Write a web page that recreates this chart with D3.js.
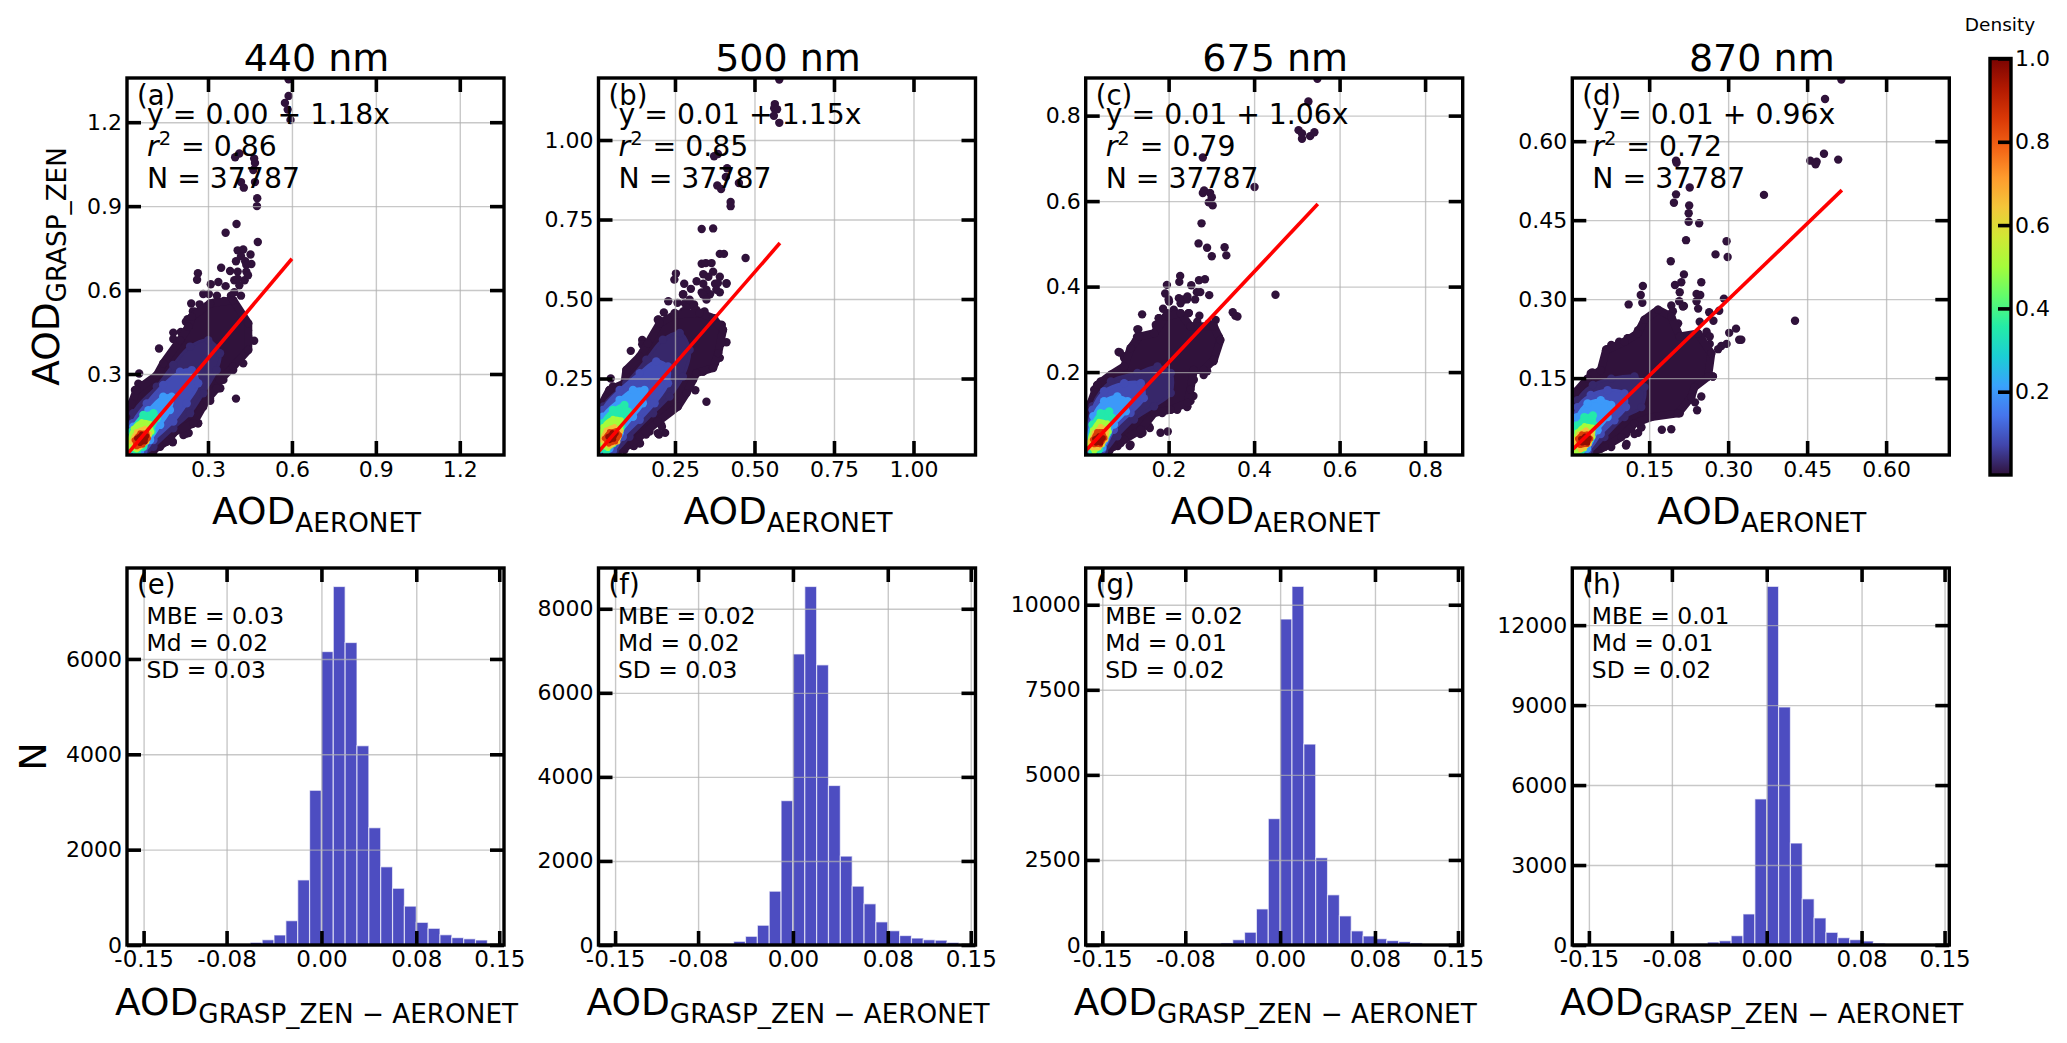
<!DOCTYPE html>
<html>
<head>
<meta charset="utf-8">
<title>AOD comparison</title>
<script src="https://cdn.jsdelivr.net/npm/d3@7"></script>
<style>
  html, body { margin: 0; padding: 0; background: #fff; }
  text { font-family: "DejaVu Sans", sans-serif; fill: #000; }
</style>
</head>
<body>
<div id="vis"></div>
<script>
// turbo colour stops, matplotlib style (d3.interpolateTurbo is too black at the low end)
const turboStops = ["#30123b","#4145ab","#4675ed","#39a2fc","#1bcfd4","#24eca6","#61fc6c","#a4fc3b","#d1e834","#f3c63a","#fe9b2d","#f36315","#d93806","#b11901","#7a0402"];

const titles = ["440 nm", "500 nm", "675 nm", "870 nm"];
const scatterLetters = ["(a)", "(b)", "(c)", "(d)"];
const histLetters = ["(e)", "(f)", "(g)", "(h)"];
const fitLabels = ["y = 0.00 + 1.18x", "y = 0.01 + 1.15x", "y = 0.01 + 1.06x", "y = 0.01 + 0.96x"];
const r2Labels = ["0.86", "0.85", "0.79", "0.72"];
const nLabel = "N = 37787";
const mbeLabels = ["MBE = 0.03", "MBE = 0.02", "MBE = 0.02", "MBE = 0.01"];
const mdLabels = ["Md = 0.02", "Md = 0.02", "Md = 0.01", "Md = 0.01"];
const sdLabels = ["SD = 0.03", "SD = 0.03", "SD = 0.02", "SD = 0.02"];

// axis limits and ticks of the top row
const scatterDomains = [[0.0105, 1.358], [0.0095, 1.195], [0.006, 0.888], [0.004, 0.72]];
const scatterTicks = [[0.3, 0.6, 0.9, 1.2], [0.25, 0.5, 0.75, 1.0], [0.2, 0.4, 0.6, 0.8], [0.15, 0.3, 0.45, 0.6]];
const scatterFormats = [".1f", ".2f", ".1f", ".2f"];

// regression line end points [x1, y1, x2, y2]
const fitEnds = [[0.012, 0.014, 0.6, 0.712], [0.01, 0.02, 0.58, 0.676], [0.006, 0.016, 0.549, 0.593], [0.004, 0.014, 0.516, 0.507]];

// density bands, outermost first
const bandsA = [
  { level: 0.0, pts: [[.015,.017],[.021,.112],[.027,.195],[.045,.243],[.117,.296],[.140,.338],[.200,.421],[.230,.469],[.242,.505],[.307,.552],[.390,.564],[.444,.481],[.444,.386],[.390,.326],[.343,.279],[.331,.249],[.295,.207],[.248,.124],[.182,.094],[.152,.058],[.105,.029],[.093,.013]] },
  { level: 0.03, pts: [[.021,.029],[.033,.160],[.117,.255],[.176,.332],[.236,.398],[.301,.421],[.343,.374],[.331,.314],[.283,.231],[.236,.160],[.176,.106],[.105,.040],[.069,.013]] },
  { level: 0.08, pts: [[.021,.029],[.031,.124],[.081,.195],[.140,.261],[.200,.308],[.242,.314],[.265,.267],[.224,.195],[.176,.130],[.105,.064],[.069,.023]] },
  { level: 0.2, pts: [[.019,.029],[.033,.112],[.087,.171],[.140,.219],[.170,.219],[.164,.171],[.129,.118],[.093,.064],[.057,.023]] },
  { level: 0.35, pts: [[.019,.035],[.027,.094],[.069,.154],[.105,.160],[.117,.142],[.099,.094],[.069,.040],[.045,.019]] },
  { level: 0.5, pts: [[.019,.040],[.033,.106],[.063,.130],[.093,.124],[.099,.094],[.081,.058],[.045,.029]] },
  { level: 0.65, pts: [[.027,.058],[.045,.094],[.075,.106],[.090,.088],[.081,.058],[.051,.035]] },
  { level: 0.85, pts: [[.036,.064],[.057,.090],[.081,.090],[.087,.070],[.067,.046],[.045,.040]] },
  { level: 0.97, pts: [[.045,.070],[.063,.085],[.081,.079],[.075,.058],[.057,.052]] }
];
const bandsB = [
  { level: 0.0, pts: [[.013,.020],[.021,.172],[.044,.214],[.091,.235],[.097,.277],[.139,.319],[.165,.361],[.202,.424],[.249,.451],[.328,.456],[.370,.440],[.401,.403],[.386,.330],[.370,.283],[.317,.267],[.286,.204],[.259,.162],[.196,.114],[.139,.067],[.097,.036],[.065,.018]] },
  { level: 0.03, pts: [[.013,.025],[.025,.162],[.097,.235],[.160,.309],[.212,.372],[.265,.393],[.296,.340],[.275,.256],[.233,.193],[.181,.141],[.107,.067],[.060,.020]] },
  { level: 0.08, pts: [[.013,.025],[.023,.151],[.076,.214],[.139,.267],[.191,.304],[.228,.288],[.228,.235],[.186,.172],[.139,.120],[.086,.067],[.055,.023]] },
  { level: 0.2, pts: [[.013,.027],[.023,.130],[.076,.183],[.118,.214],[.154,.214],[.149,.172],[.118,.130],[.076,.078],[.044,.030]] },
  { level: 0.35, pts: [[.013,.030],[.021,.109],[.055,.151],[.091,.167],[.102,.146],[.081,.099],[.055,.046],[.034,.023]] },
  { level: 0.5, pts: [[.015,.041],[.023,.099],[.055,.125],[.081,.120],[.081,.088],[.065,.051],[.039,.030]] },
  { level: 0.65, pts: [[.021,.057],[.034,.088],[.060,.099],[.079,.083],[.070,.051],[.044,.038]] },
  { level: 0.85, pts: [[.028,.062],[.044,.083],[.065,.086],[.076,.072],[.063,.051],[.042,.044]] },
  { level: 0.97, pts: [[.039,.067],[.053,.080],[.065,.078],[.057,.059],[.044,.055]] }
];
const bandsC = [
  { level: 0.0, pts: [[.010,.007],[.018,.128],[.033,.170],[.065,.194],[.096,.213],[.111,.256],[.131,.283],[.166,.291],[.193,.330],[.228,.338],[.251,.307],[.306,.307],[.321,.275],[.306,.229],[.282,.205],[.259,.205],[.251,.159],[.244,.128],[.205,.112],[.166,.104],[.135,.065],[.096,.042],[.072,.026],[.049,.011]] },
  { level: 0.03, pts: [[.014,.015],[.022,.120],[.065,.178],[.127,.198],[.174,.213],[.205,.198],[.205,.151],[.166,.120],[.119,.089],[.080,.050],[.049,.015]] },
  { level: 0.08, pts: [[.014,.019],[.022,.112],[.049,.155],[.096,.174],[.135,.174],[.142,.139],[.111,.104],[.072,.065],[.045,.019]] },
  { level: 0.2, pts: [[.014,.023],[.024,.097],[.049,.132],[.080,.143],[.104,.132],[.100,.108],[.072,.077],[.045,.023]] },
  { level: 0.35, pts: [[.014,.026],[.022,.077],[.041,.104],[.061,.108],[.068,.093],[.057,.058],[.037,.019],[.022,.012]] },
  { level: 0.5, pts: [[.014,.030],[.022,.065],[.037,.085],[.057,.081],[.061,.061],[.045,.030],[.026,.015]] },
  { level: 0.65, pts: [[.016,.038],[.026,.058],[.041,.073],[.055,.065],[.053,.042],[.037,.023],[.022,.023]] },
  { level: 0.85, pts: [[.022,.042],[.032,.061],[.045,.061],[.051,.046],[.040,.030],[.026,.030]] },
  { level: 0.97, pts: [[.027,.044],[.037,.051],[.047,.046],[.041,.034],[.030,.034]] }
];
const bandsD = [
  { level: 0.0, pts: [[.004,.006],[.011,.124],[.033,.149],[.058,.165],[.068,.203],[.103,.219],[.128,.235],[.141,.261],[.167,.280],[.192,.267],[.208,.229],[.243,.235],[.268,.197],[.262,.153],[.236,.133],[.230,.114],[.205,.083],[.154,.076],[.122,.064],[.097,.038],[.065,.019],[.039,.008]] },
  { level: 0.03, pts: [[.006,.010],[.014,.108],[.043,.137],[.078,.149],[.122,.153],[.141,.133],[.135,.095],[.103,.076],[.065,.038],[.036,.010]] },
  { level: 0.08, pts: [[.006,.013],[.014,.095],[.039,.118],[.071,.127],[.103,.121],[.106,.095],[.084,.070],[.058,.044],[.033,.013]] },
  { level: 0.2, pts: [[.006,.016],[.013,.076],[.033,.102],[.058,.108],[.078,.099],[.071,.076],[.052,.051],[.032,.016]] },
  { level: 0.35, pts: [[.006,.022],[.013,.060],[.027,.076],[.043,.079],[.046,.060],[.036,.032],[.020,.010]] },
  { level: 0.5, pts: [[.006,.025],[.013,.048],[.027,.060],[.043,.057],[.043,.038],[.027,.016],[.011,.010]] },
  { level: 0.65, pts: [[.009,.032],[.017,.044],[.030,.052],[.041,.043],[.036,.025],[.020,.014]] },
  { level: 0.85, pts: [[.014,.035],[.022,.044],[.032,.044],[.039,.035],[.032,.024],[.019,.022]] },
  { level: 0.97, pts: [[.020,.035],[.028,.040],[.036,.036],[.033,.027],[.023,.027]] }
];

// single low density points outside the dense cloud
const pointsA = [[.588,1.353],[.588,1.294],[.575,1.269],[.585,1.245],[.595,1.208],[.397,1.075],[.412,1.088],[.465,1.070],[.468,1.054],[.462,1.029],[.418,.986],[.468,.986],[.428,.966],[.476,.928],[.475,.900],[.402,.836],[.363,.805],[.478,.772],[.406,.742],[.426,.745],[.452,.727],[.347,.680],[.379,.668],[.400,.703],[.433,.703],[.455,.693],[.406,.666],[.437,.666],[.264,.660],[.261,.637],[.310,.621],[.337,.629],[.363,.614],[.394,.635],[.431,.635],[.303,.586],[.332,.580],[.394,.592],[.418,.580],[.357,.561],[.240,.552],[.270,.549],[.227,.496],[.283,.530],[.308,.530],[.394,.524],[.418,.499],[.176,.448],[.176,.425],[.125,.391],[.054,.302],[.465,.419],[.400,.212],[.051,.265],[.073,.259],[.104,.271],[.221,.087],[.231,.089],[.174,.058],[.125,.044],[.344,.249],[.308,.204],[.264,.124],[.283,.191],[.418,.370],[.437,.382],[.443,.456],[.431,.469]];
const pointsB = [[.578,1.190],[.564,1.113],[.562,1.100],[.571,1.097],[.561,1.076],[.578,1.054],[.373,.949],[.385,.956],[.414,.911],[.410,.884],[.451,.865],[.383,.857],[.395,.846],[.425,.805],[.425,.792],[.334,.720],[.370,.722],[.391,.642],[.404,.642],[.472,.629],[.334,.611],[.347,.613],[.365,.613],[.253,.580],[.248,.561],[.339,.578],[.370,.586],[.355,.570],[.391,.570],[.318,.556],[.279,.548],[.300,.532],[.339,.548],[.376,.548],[.412,.548],[.276,.515],[.334,.521],[.360,.515],[.391,.521],[.229,.493],[.258,.488],[.310,.483],[.287,.483],[.215,.458],[.339,.458],[.276,.461],[.198,.436],[.373,.440],[.397,.418],[.412,.364],[.147,.371],[.147,.358],[.111,.337],[.048,.250],[.391,.315],[.376,.299],[.339,.272],[.314,.213],[.349,.177],[.219,.079],[.200,.074],[.209,.098],[.159,.074],[.140,.046],[.121,.038],[.276,.196],[.245,.158]];
const pointsC = [[.548,.886],[.527,.833],[.504,.766],[.512,.758],[.512,.746],[.531,.752],[.541,.761],[.280,.702],[.401,.633],[.280,.619],[.283,.625],[.297,.619],[.301,.609],[.294,.597],[.303,.590],[.277,.548],[.270,.501],[.290,.491],[.331,.492],[.335,.473],[.301,.471],[.196,.404],[.192,.384],[.227,.425],[.225,.411],[.271,.415],[.285,.417],[.253,.403],[.266,.387],[.274,.387],[.295,.380],[.262,.370],[.450,.381],[.350,.340],[.356,.332],[.361,.330],[.138,.335],[.177,.326],[.187,.348],[.127,.300],[.171,.307],[.247,.338],[.272,.332],[.126,.282],[.083,.247],[.095,.237],[.027,.158],[.258,.144],[.251,.132],[.243,.118],[.198,.061],[.181,.058],[.156,.069],[.134,.055],[.109,.027],[.081,.027],[.305,.225],[.309,.278],[.317,.282],[.282,.193],[.200,.370],[.235,.370],[.243,.370]];
const pointsD = [[.515,.717],[.484,.680],[.201,.563],[.202,.559],[.456,.563],[.468,.561],[.466,.556],[.482,.576],[.509,.565],[.227,.512],[.201,.499],[.197,.483],[.368,.498],[.226,.478],[.225,.463],[.225,.447],[.245,.444],[.220,.412],[.297,.410],[.276,.385],[.299,.380],[.191,.372],[.216,.347],[.211,.332],[.199,.327],[.249,.332],[.208,.313],[.240,.310],[.247,.308],[.138,.325],[.134,.308],[.137,.293],[.111,.290],[.292,.301],[.207,.296],[.240,.296],[.216,.287],[.243,.282],[.283,.278],[.192,.288],[.264,.275],[.272,.259],[.427,.259],[.315,.244],[.302,.236],[.321,.223],[.325,.223],[.297,.215],[.287,.211],[.281,.205],[.259,.234],[.265,.215],[.259,.189],[.271,.153],[.042,.161],[.069,.205],[.078,.213],[.110,.226],[.129,.241],[.249,.115],[.237,.104],[.241,.089],[.174,.052],[.192,.053],[.135,.056],[.116,.054],[.107,.025],[.129,.046]];

// points that make the bumpy rim of each cloud
const rimA = [[.039,.243],[.057,.261],[.033,.195],[.027,.160],[.099,.273],[.135,.320],[.152,.350],[.200,.410],[.212,.445],[.230,.493],[.254,.523],[.307,.540],[.367,.517],[.396,.493],[.432,.481],[.444,.433],[.438,.386],[.426,.338],[.390,.314],[.355,.279],[.337,.249],[.307,.213],[.283,.183],[.254,.130],[.212,.106],[.176,.094],[.146,.064],[.129,.040],[.105,.023],[.242,.121],[.265,.124],[.224,.088],[.212,.082],[.174,.056],[.129,.045],[.344,.524],[.369,.542],[.320,.555],[.382,.580],[.412,.617],[.406,.641],[.443,.653],[.437,.690],[.418,.721],[.369,.530],[.283,.586],[.246,.524],[.221,.487],[.203,.450]];
const rimB = [[.028,.167],[.034,.193],[.055,.225],[.081,.225],[.107,.267],[.123,.298],[.154,.325],[.170,.351],[.202,.403],[.196,.435],[.228,.435],[.249,.456],[.281,.487],[.307,.477],[.343,.461],[.396,.419],[.401,.403],[.380,.382],[.396,.361],[.380,.309],[.375,.298],[.338,.272],[.307,.246],[.291,.225],[.275,.193],[.254,.167],[.228,.146],[.207,.104],[.196,.078],[.170,.083],[.139,.046],[.118,.039],[.091,.025],[.070,.020],[.349,.529],[.385,.550],[.338,.514],[.412,.550],[.296,.498],[.275,.514],[.349,.498],[.380,.529],[.317,.466],[.286,.472]];
const rimC = [[.018,.112],[.026,.159],[.041,.178],[.080,.194],[.086,.246],[.096,.233],[.111,.248],[.123,.272],[.131,.283],[.129,.300],[.170,.311],[.177,.326],[.193,.318],[.197,.338],[.201,.365],[.224,.373],[.244,.377],[.228,.361],[.247,.338],[.267,.318],[.294,.314],[.310,.322],[.317,.283],[.314,.260],[.302,.225],[.290,.202],[.263,.213],[.259,.182],[.255,.143],[.244,.120],[.220,.112],[.185,.104],[.162,.108],[.154,.073],[.139,.058],[.111,.030],[.088,.034],[.061,.015],[.216,.322],[.228,.307],[.259,.307],[.212,.346],[.236,.322],[.282,.283],[.298,.268],[.275,.252]];
const rimD = [[.017,.121],[.014,.102],[.039,.159],[.042,.146],[.062,.168],[.071,.203],[.078,.207],[.093,.219],[.109,.226],[.128,.238],[.144,.261],[.167,.277],[.192,.273],[.205,.254],[.195,.277],[.214,.286],[.246,.257],[.259,.238],[.265,.229],[.259,.191],[.262,.168],[.271,.153],[.249,.175],[.236,.171],[.233,.140],[.227,.111],[.208,.083],[.179,.083],[.151,.076],[.135,.057],[.122,.044],[.106,.044],[.106,.022],[.078,.019],[.058,.016],[.036,.008],[.211,.229],[.224,.210],[.243,.210],[.236,.197],[.208,.216],[.198,.248],[.227,.178],[.243,.184],[.217,.165]];

// histograms: 30 bins of 0.01 from -0.15 to 0.15
const binWidth = 0.01;
const binStart = -0.15;
const histE = [0,0,0,0,0,0,0,0,15,55,110,210,510,1365,3245,6155,7520,6345,4180,2460,1640,1190,815,475,350,215,155,130,105,20];
const histF = [0,0,0,0,0,0,0,0,0,25,87,207,470,1280,3435,6925,8530,6665,3795,2115,1400,980,550,340,225,165,125,115,60,20];
const histG = [0,0,0,0,0,0,0,0,0,10,60,155,375,1060,3715,9580,10540,5905,2565,1475,855,415,265,185,130,100,60,15,0,0];
const histH = [0,0,0,0,0,0,0,0,0,45,110,160,350,1165,5480,13455,8930,3825,1730,1015,475,275,200,150,70,20,0,0,0,0];

const histXDomain = [-0.164, 0.154];
const histXTicks = [-0.15, -0.08, 0, 0.08, 0.15];
const histXLabels = ["-0.15", "-0.08", "0.00", "0.08", "0.15"];
const histYMax = [7908, 8970, 11080, 14144];
const histYTicks = [[0, 2000, 4000, 6000], [0, 2000, 4000, 6000, 8000], [0, 2500, 5000, 7500, 10000], [0, 3000, 6000, 9000, 12000]];

const colorbarTicks = [0.2, 0.4, 0.6, 0.8, 1.0];

const allBands = [bandsA, bandsB, bandsC, bandsD];
const allPoints = [pointsA.concat(rimA), pointsB.concat(rimB), pointsC.concat(rimC), pointsD.concat(rimD)];
const allHist = [histE, histF, histG, histH];

// layout
const width = 2067;
const height = 1043;
const panelLeft = [127, 598.5, 1085.7, 1572.3];
const panelSize = 377;
const topRowY = 78;
const bottomRowY = 568;
const tickLen = 14;

const turbo = d3.scaleLinear()
    .domain(d3.range(turboStops.length).map(i => i / (turboStops.length - 1)))
    .range(turboStops);

const svg = d3.select("#vis").append("svg")
    .attr("width", width)
    .attr("height", height)
    .style("display", "block");

const defs = svg.append("defs");

function styleAxis(g, size) {
    g.select(".domain").remove();
    g.selectAll(".tick line").attr("stroke", "#000").attr("stroke-width", 3.6);
    g.selectAll(".tick text").attr("font-size", size).attr("fill", "#000")
        .attr("font-family", '"DejaVu Sans", sans-serif');
}

function gridLines(g, x, y, xTicks, yTicks) {
    const grid = g.append("g").attr("stroke-opacity", 0.7);
    const gx = grid.append("g").attr("transform", `translate(0,${panelSize})`)
        .call(d3.axisBottom(x).tickValues(xTicks).tickSize(-panelSize).tickFormat(""));
    const gy = grid.append("g")
        .call(d3.axisLeft(y).tickValues(yTicks).tickSize(-panelSize).tickFormat(""));
    [gx, gy].forEach(a => {
        a.select(".domain").remove();
        a.selectAll(".tick line").attr("stroke", "#b0b0b0").attr("stroke-width", 1.4);
    });
}

function frameAndTicks(g, x, y, xTicks, yTicks, xFormat, yFormat, xSize) {
    const bottom = g.append("g").attr("transform", `translate(0,${panelSize})`)
        .call(d3.axisBottom(x).tickValues(xTicks).tickSize(-tickLen).tickPadding(6).tickFormat(xFormat));
    const left = g.append("g")
        .call(d3.axisLeft(y).tickValues(yTicks).tickSize(-tickLen).tickPadding(5).tickFormat(yFormat));
    const top = g.append("g")
        .call(d3.axisTop(x).tickValues(xTicks).tickSize(-tickLen).tickFormat(""));
    const right = g.append("g").attr("transform", `translate(${panelSize},0)`)
        .call(d3.axisRight(y).tickValues(yTicks).tickSize(-tickLen).tickFormat(""));
    [left, top, right].forEach(a => styleAxis(a, 22));
    styleAxis(bottom, xSize);
    g.append("rect")
        .attr("width", panelSize).attr("height", panelSize)
        .attr("fill", "none").attr("stroke", "#000").attr("stroke-width", 3.4);
}

function aodLabel(parent, sub, size) {
    parent.attr("font-size", size);
    parent.append("tspan").text("AOD");
    parent.append("tspan").attr("font-size", size * 0.7).attr("dy", size * 0.2).text(sub);
}

function drawScatter(i) {
    const g = svg.append("g").attr("transform", `translate(${panelLeft[i]},${topRowY})`);
    const domain = scatterDomains[i];
    const x = d3.scaleLinear().domain(domain).range([0, panelSize]);
    const y = d3.scaleLinear().domain(domain).range([panelSize, 0]);

    defs.append("clipPath").attr("id", "clip" + i).append("rect")
        .attr("width", panelSize).attr("height", panelSize);

    const marks = g.append("g").attr("clip-path", `url(#clip${i})`);

    marks.append("g").selectAll("circle")
        .data(allPoints[i])
        .join("circle")
        .attr("cx", d => x(d[0]))
        .attr("cy", d => y(d[1]))
        .attr("r", 4.2)
        .attr("fill", turbo(0));

    const outer = d3.line().x(d => x(d[0])).y(d => y(d[1])).curve(d3.curveLinearClosed);
    const inner = d3.line().x(d => x(d[0])).y(d => y(d[1])).curve(d3.curveCatmullRomClosed);

    // each band is an outline plus a dot on every outline point, so its edge is scalloped
    allBands[i].forEach((band, k) => {
        const layer = marks.append("g").attr("fill", turbo(band.level));
        layer.append("path")
            .attr("d", k === 0 ? outer(band.pts) : inner(band.pts))
            .attr("stroke", turbo(band.level))
            .attr("stroke-width", k === 0 ? 8 : 3)
            .attr("stroke-linejoin", "round");
        layer.selectAll("circle")
            .data(band.pts)
            .join("circle")
            .attr("cx", d => x(d[0]))
            .attr("cy", d => y(d[1]))
            .attr("r", k < 5 ? 4.2 : 2.6);
    });

    gridLines(g, x, y, scatterTicks[i], scatterTicks[i]);

    const fit = fitEnds[i];
    g.append("path")
        .attr("clip-path", `url(#clip${i})`)
        .attr("d", d3.line()([[x(fit[0]), y(fit[1])], [x(fit[2]), y(fit[3])]]))
        .attr("stroke", "#ff0000")
        .attr("stroke-width", 3.6)
        .attr("fill", "none");

    const fmt = d3.format(scatterFormats[i]);
    frameAndTicks(g, x, y, scatterTicks[i], scatterTicks[i], fmt, fmt, 22);

    g.append("text").attr("x", panelSize / 2 + 1).attr("y", -7)
        .attr("text-anchor", "middle").attr("font-size", 38).text(titles[i]);
    g.append("text").attr("x", 10).attr("y", 27).attr("font-size", 27.5).text(scatterLetters[i]);
    g.append("text").attr("x", 20).attr("y", 46).attr("font-size", 28.3).text(fitLabels[i]);

    const r2 = g.append("text").attr("x", 20).attr("y", 78).attr("font-size", 28.3);
    r2.append("tspan").attr("font-style", "italic").text("r");
    r2.append("tspan").attr("font-size", 19.5).attr("dy", -11).text("2");
    r2.append("tspan").attr("dy", 11).attr("dx", 10).text("= " + r2Labels[i]);

    g.append("text").attr("x", 20).attr("y", 110).attr("font-size", 28.3).text(nLabel);

    const xl = g.append("text").attr("x", panelSize / 2 + 1).attr("y", 446)
        .attr("text-anchor", "middle");
    aodLabel(xl, "AERONET", 37.5);

    if (i === 0) {
        const yl = g.append("text")
            .attr("transform", `translate(${-68.5},${panelSize / 2}) rotate(-90)`)
            .attr("text-anchor", "middle");
        aodLabel(yl, "GRASP_ZEN", 37.5);
    }
}

function drawHist(i) {
    const g = svg.append("g").attr("transform", `translate(${panelLeft[i]},${bottomRowY})`);
    const x = d3.scaleLinear().domain(histXDomain).range([0, panelSize]);
    const y = d3.scaleLinear().domain([0, histYMax[i]]).range([panelSize, 0]);

    g.append("g").selectAll("rect")
        .data(allHist[i])
        .join("rect")
        .attr("x", (d, k) => x(binStart + k * binWidth))
        .attr("width", x(binWidth) - x(0))
        .attr("y", d => y(d))
        .attr("height", d => y(0) - y(d))
        .attr("fill", "#0202a6")
        .attr("fill-opacity", 0.7)
        .attr("stroke", "#fff")
        .attr("stroke-opacity", 0.65)
        .attr("stroke-width", 1.2);

    gridLines(g, x, y, histXTicks, histYTicks[i]);

    const xFmt = (d, k) => histXLabels[k];
    frameAndTicks(g, x, y, histXTicks, histYTicks[i], xFmt, d3.format("d"), 23);

    g.append("text").attr("x", 10).attr("y", 26).attr("font-size", 27.5).text(histLetters[i]);
    g.append("text").attr("x", 19.5).attr("y", 56).attr("font-size", 23.4).text(mbeLabels[i]);
    g.append("text").attr("x", 19.5).attr("y", 83).attr("font-size", 23.4).text(mdLabels[i]);
    g.append("text").attr("x", 19.5).attr("y", 110).attr("font-size", 23.4).text(sdLabels[i]);

    const xl = g.append("text").attr("x", panelSize / 2 + 1).attr("y", 447)
        .attr("text-anchor", "middle");
    aodLabel(xl, "GRASP_ZEN \u2212 AERONET", 37.5);

    if (i === 0) {
        g.append("text")
            .attr("transform", `translate(${-81.5},${panelSize / 2}) rotate(-90)`)
            .attr("text-anchor", "middle")
            .attr("font-size", 38)
            .text("N");
    }
}

function drawColorbar() {
    const barX = 1990;
    const barW = 21;
    const barTop = 58.5;
    const barBottom = 475;
    const c = d3.scaleLinear().domain([0, 1]).range([barBottom, barTop]);

    const grad = defs.append("linearGradient").attr("id", "turboGrad")
        .attr("x1", 0).attr("y1", 1).attr("x2", 0).attr("y2", 0);
    grad.selectAll("stop")
        .data(turboStops)
        .join("stop")
        .attr("offset", (d, k) => k / (turboStops.length - 1))
        .attr("stop-color", d => d);

    const g = svg.append("g").attr("transform", `translate(${barX},0)`);
    g.append("rect")
        .attr("y", barTop).attr("width", barW).attr("height", barBottom - barTop)
        .attr("fill", "url(#turboGrad)");

    const ax = g.append("g").attr("transform", `translate(${barW},0)`)
        .call(d3.axisRight(c).tickValues(colorbarTicks).tickSize(-13).tickPadding(4).tickFormat(d3.format(".1f")));
    styleAxis(ax, 22);
    ax.selectAll(".tick text").attr("text-anchor", "start");

    g.append("rect")
        .attr("y", barTop).attr("width", barW).attr("height", barBottom - barTop)
        .attr("fill", "none").attr("stroke", "#000").attr("stroke-width", 3.4);

    svg.append("text").attr("x", 2000).attr("y", 31).attr("text-anchor", "middle")
        .attr("font-size", 18.5).text("Density");
}

titles.forEach((t, i) => {
    drawScatter(i);
    drawHist(i);
});
drawColorbar();
</script>
</body>
</html>
